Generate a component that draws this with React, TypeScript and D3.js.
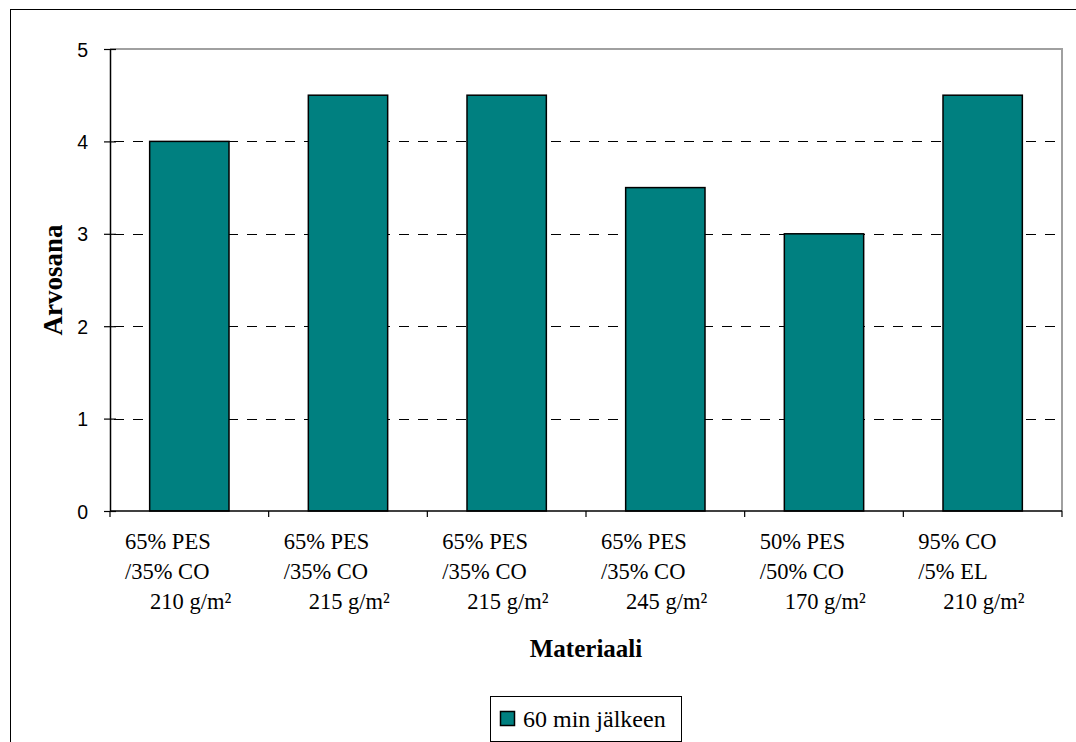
import * as d3 from "d3";
import React, { useEffect, useRef } from "react";

const categories = ["m1", "m2", "m3", "m4", "m5", "m6"];
const labelLine1 = ["65% PES", "65% PES", "65% PES", "65% PES", "50% PES", "95% CO"];
const labelLine2 = ["/35% CO", "/35% CO", "/35% CO", "/35% CO", "/50% CO", "/5% EL"];
const labelLine3 = ["210 g/m²", "215 g/m²", "215 g/m²", "245 g/m²", "170 g/m²", "210 g/m²"];
const values = [4, 4.5, 4.5, 3.5, 3, 4.5];
const yTicks = [0, 1, 2, 3, 4, 5];
const seriesName = "60 min jälkeen";
const xTitle = "Materiaali";
const yTitle = "Arvosana";

const App = () => {
  const ref = useRef(null);

  useEffect(() => {
    const W = 1076;
    const H = 742;
    const plot = { left: 110, right: 1062, top: 49, bottom: 511 };
    const teal = "#008080";
    const serif = "'Liberation Serif', 'Times New Roman', serif";
    const sans = "'Liberation Sans', Arial, sans-serif";

    d3.select(ref.current).selectAll("*").remove();
    const svg = d3
      .select(ref.current)
      .append("svg")
      .attr("width", W)
      .attr("height", H)
      .style("position", "absolute")
      .style("left", 0)
      .style("top", 0);

    svg.append("rect").attr("width", W).attr("height", H).attr("fill", "white");

    // outer chart frame (right and bottom edge run past the picture)
    svg
      .append("rect")
      .attr("x", 10.5)
      .attr("y", 9.5)
      .attr("width", W + 20)
      .attr("height", H + 20)
      .attr("fill", "none")
      .attr("stroke", "black")
      .attr("stroke-width", 1);

    const x = d3
      .scaleBand()
      .domain(categories)
      .range([plot.left, plot.right])
      .paddingInner(0.5)
      .paddingOuter(0.25);

    const xCat = d3.scaleBand().domain(categories).range([plot.left, plot.right]).padding(0);

    const y = d3.scaleLinear().domain([0, 5]).range([plot.bottom, plot.top]);

    // plot border (grey top / right)
    svg
      .append("path")
      .attr("d", `M${plot.left},${plot.top}H${plot.right}V${plot.bottom}`)
      .attr("fill", "none")
      .attr("stroke", "#a0a0a0")
      .attr("stroke-width", 2);

    // dashed gridlines
    svg
      .append("g")
      .selectAll("line")
      .data(yTicks.filter((t) => t > 0 && t < 5))
      .enter()
      .append("line")
      .attr("x1", plot.left + 4)
      .attr("x2", plot.right - 4)
      .attr("y1", (d) => Math.round(y(d)) + 0.5)
      .attr("y2", (d) => Math.round(y(d)) + 0.5)
      .attr("stroke", "black")
      .attr("stroke-dasharray", "10,9");

    // bars
    svg
      .append("g")
      .selectAll("rect")
      .data(values)
      .enter()
      .append("rect")
      .attr("x", (d, i) => x(categories[i]))
      .attr("y", (d) => y(d))
      .attr("width", x.bandwidth())
      .attr("height", (d) => y(0) - y(d))
      .attr("fill", teal)
      .attr("stroke", "black")
      .attr("stroke-width", 1.5);

    // y axis (ticks cross the axis line)
    const yAxis = svg
      .append("g")
      .attr("transform", `translate(${plot.left},0)`)
      .call(
        d3
          .axisLeft(y)
          .tickValues(yTicks)
          .tickSize(6)
          .tickPadding(16)
          .tickSizeOuter(0)
          .tickFormat(d3.format("d"))
      );
    yAxis.select(".domain").attr("stroke", "black").attr("stroke-width", 1.5);
    yAxis
      .selectAll(".tick line")
      .attr("x1", 6)
      .attr("stroke", "black")
      .attr("stroke-width", 1.2);
    yAxis
      .selectAll(".tick text")
      .attr("fill", "black")
      .attr("font-family", sans)
      .attr("font-size", 19.5)
      .attr("dy", "0.36em");

    // x axis
    const xAxis = svg.append("g").attr("transform", `translate(0,${plot.bottom})`);
    xAxis
      .append("line")
      .attr("x1", plot.left)
      .attr("x2", plot.right)
      .attr("stroke", "black")
      .attr("stroke-width", 1.5);
    xAxis
      .selectAll(".xtick")
      .data(categories.concat(["end"]))
      .enter()
      .append("line")
      .attr("x1", (d, i) => (i < categories.length ? xCat(d) : plot.right))
      .attr("x2", (d, i) => (i < categories.length ? xCat(d) : plot.right))
      .attr("y1", 0)
      .attr("y2", 6)
      .attr("stroke", "black")
      .attr("stroke-width", 1.2);

    // multi-line category labels
    const lines = [labelLine1, labelLine2, labelLine3];
    const lineOffsets = [15, 15, 40];
    const baselines = [549, 579, 609];
    lines.forEach((arr, li) => {
      svg
        .append("g")
        .selectAll("text")
        .data(arr)
        .enter()
        .append("text")
        .attr("x", (d, i) => xCat(categories[i]) + lineOffsets[li])
        .attr("y", baselines[li])
        .attr("font-family", serif)
        .attr("font-size", 22.5)
        .attr("fill", "black")
        .text((d) => d);
    });

    // axis titles
    svg
      .append("text")
      .attr("x", (plot.left + plot.right) / 2)
      .attr("y", 657)
      .attr("text-anchor", "middle")
      .attr("font-family", serif)
      .attr("font-weight", "bold")
      .attr("font-size", 25)
      .text(xTitle);

    svg
      .append("text")
      .attr("transform", `translate(62,${(plot.top + plot.bottom) / 2}) rotate(-90)`)
      .attr("text-anchor", "middle")
      .attr("font-family", serif)
      .attr("font-weight", "bold")
      .attr("font-size", 27)
      .text(yTitle);

    // legend
    const legend = svg.append("g");
    legend
      .append("rect")
      .attr("x", 490.5)
      .attr("y", 696.5)
      .attr("width", 191)
      .attr("height", 45)
      .attr("fill", "white")
      .attr("stroke", "black")
      .attr("stroke-width", 1);
    legend
      .append("rect")
      .attr("x", 500.5)
      .attr("y", 711.5)
      .attr("width", 14)
      .attr("height", 14)
      .attr("fill", teal)
      .attr("stroke", "black")
      .attr("stroke-width", 1.5);
    legend
      .append("text")
      .attr("x", 523)
      .attr("y", 727)
      .attr("font-family", serif)
      .attr("font-size", 24)
      .text(seriesName);
  }, []);

  return <div ref={ref} />;
};

export default App;
